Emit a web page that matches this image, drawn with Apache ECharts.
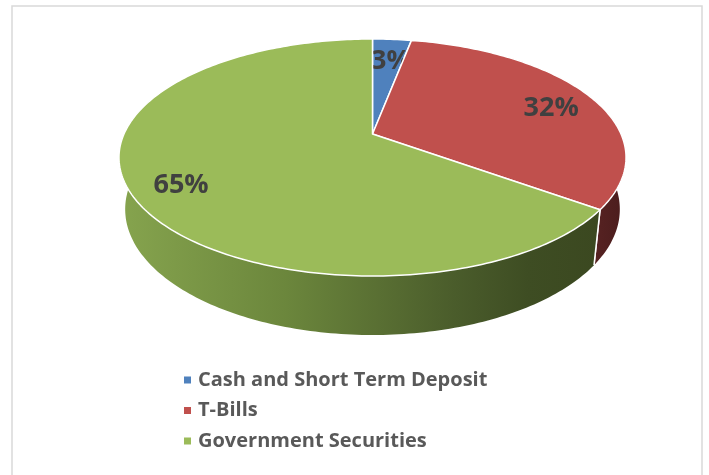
<!DOCTYPE html>
<html>
<head>
<meta charset="utf-8">
<script src="https://cdn.jsdelivr.net/npm/echarts@6/dist/echarts.min.js"></script>
<style>
  html, body { margin: 0; padding: 0; background: #fff; }
  #chart { width: 709px; height: 475px; }
</style>
</head>
<body>
<div id="chart"></div>
<script>
// data
var categories = ['Cash and Short Term Deposit', 'T-Bills', 'Government Securities'];
var shares = [3, 32, 65];
var shareLabels = ['3%', '32%', '65%'];

// styles
var topColors = ['#4f81bd', '#c0504d', '#9bbb59'];
var sideColors = [
  '#3b5f8c',
  new echarts.graphic.LinearGradient(0, 0, 1, 0, [
    { offset: 0, color: '#5a2424' }, { offset: 1, color: '#4a1c1c' }
  ]),
  new echarts.graphic.LinearGradient(0, 0, 1, 0, [
    { offset: 0, color: '#86a44e' },
    { offset: 0.35, color: '#6b863c' },
    { offset: 0.7, color: '#4a5c2b' },
    { offset: 0.85, color: '#3e4d23' },
    { offset: 1, color: '#3b4820' }
  ])
];

// fake 3d: tilted disc seen in perspective
var SIN = 0.4582, COS = Math.sqrt(1 - SIN * SIN);
var DIST = 4.483;   // camera distance (in radii)
var THICK = 0.236;  // pie thickness (in radii)
var SCALE = 1114, CX = 372.5, CY = 134;

function project(deg, bottom) {
  var t = deg * Math.PI / 180;
  var u = Math.cos(t), v = Math.sin(t);
  var h = bottom ? THICK : 0;
  var depth = DIST + h * SIN + v * COS;
  return [u / depth, (v * SIN - h * COS) / depth];
}

var halfW = 1 / Math.sqrt(DIST * DIST - COS * COS);
var yMax = SIN / (DIST + COS);
var yMin = -(THICK * COS + SIN) / (DIST + THICK * SIN - COS);

var total = shares.reduce(function (a, b) { return a + b; }, 0);
var starts = [];
var acc = 0;
shares.forEach(function (s) { starts.push(acc); acc += s; });

function arc(api, from, to, bottom) {
  var pts = [];
  var n = Math.max(2, Math.ceil(Math.abs(to - from)));
  for (var k = 0; k <= n; k++) {
    pts.push(api.coord(project(from + (to - from) * k / n, bottom)));
  }
  return pts;
}

function makeSeries(i) {
  return {
    name: categories[i],
    type: 'custom',
    coordinateSystem: 'cartesian2d',
    itemStyle: { color: topColors[i] },
    silent: true,
    data: [[shares[i]]],
    renderItem: function (params, api) {
      var a0 = 90 - 360 * starts[i] / total;
      var a1 = a0 - 360 * api.value(0) / total;
      var children = [];

      // outer wall, front part only
      var hi = Math.min(a0, 20), lo = Math.max(a1, -200);
      if (lo < hi) {
        var wall = arc(api, hi, lo, false).concat(arc(api, lo, hi, true));
        children.push({ type: 'polygon', shape: { points: wall }, style: { fill: sideColors[i] } });
        [a0, a1].forEach(function (a) {
          if (a < 0 && a > -180) {
            var p1 = api.coord(project(a, false)), p2 = api.coord(project(a, true));
            children.push({
              type: 'line',
              shape: { x1: p1[0], y1: p1[1], x2: p2[0], y2: p2[1] },
              style: { stroke: '#fff', lineWidth: 1.5 }
            });
          }
        });
      }

      // top face
      var face = [api.coord([0, 0])].concat(arc(api, a0, a1, false));
      children.push({
        type: 'polygon',
        shape: { points: face },
        style: { fill: topColors[i], stroke: '#fff', lineWidth: 1.5, lineJoin: 'round' }
      });

      // value label
      var mid = (a0 + a1) / 2, t = mid * Math.PI / 180, r = 0.81;
      var u = r * Math.cos(t), v = r * Math.sin(t);
      var p = api.coord([u / (DIST + v * COS), v * SIN / (DIST + v * COS)]);
      children.push({
        type: 'text',
        x: p[0] + 2, y: p[1] + 6,
        style: {
          text: shareLabels[i],
          fill: '#404040',
          font: 'bold 27px "Open Sans"',
          align: 'center',
          verticalAlign: 'middle'
        }
      });
      return { type: 'group', children: children };
    }
  };
}

var chart = echarts.init(document.getElementById('chart'));
chart.setOption({
  backgroundColor: '#fff',
  animation: false,
  graphic: [{
    type: 'rect',
    shape: { x: 12, y: 6, width: 690, height: 480 },
    style: { fill: 'none', stroke: '#d9d9d9', lineWidth: 1.5 },
    silent: true
  }],
  grid: {
    left: CX - SCALE * halfW,
    width: 2 * SCALE * halfW,
    top: CY - SCALE * yMax,
    height: SCALE * (yMax - yMin)
  },
  xAxis: { type: 'value', min: -halfW, max: halfW, show: false },
  yAxis: { type: 'value', min: yMin, max: yMax, show: false },
  legend: {
    data: categories,
    orient: 'vertical',
    left: 179,
    top: 365,
    icon: 'rect',
    itemWidth: 7,
    itemHeight: 7,
    itemGap: 10.5,
    selectedMode: false,
    textStyle: {
      fontFamily: 'Open Sans',
      fontWeight: 'bold',
      fontSize: 20,
      lineHeight: 20,
      color: '#595959',
      padding: [0, 0, 0, 2]
    }
  },
  series: categories.map(function (c, i) { return makeSeries(i); })
});
</script>
</body>
</html>
